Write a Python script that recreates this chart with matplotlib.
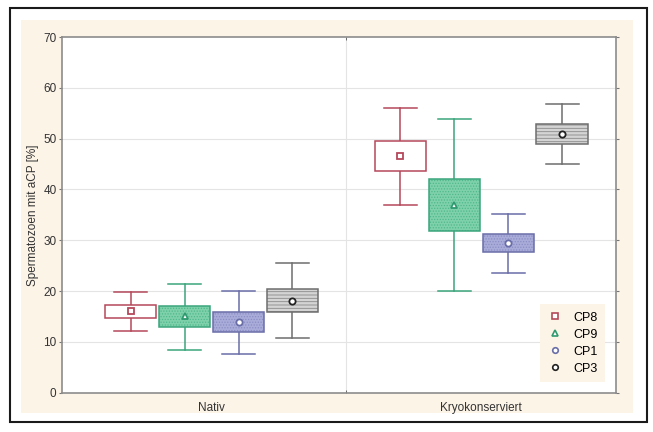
import matplotlib
matplotlib.use("Agg")
import matplotlib.pyplot as plt
from matplotlib.patches import Rectangle
from matplotlib.lines import Line2D

plt.rcParams['font.family'] = ['Liberation Sans', 'DejaVu Sans']
plt.rcParams['hatch.linewidth'] = 0.6

categories = ["Nativ", "Kryokonserviert"]
series = ["CP8", "CP9", "CP1", "CP3"]
# per series: [Nativ, Kryokonserviert]
means   = {"CP8": [16.0, 46.6], "CP9": [15.0, 36.9], "CP1": [13.9, 29.4], "CP3": [18.1, 50.9]}
box_lo  = {"CP8": [14.7, 43.6], "CP9": [12.9, 31.8], "CP1": [12.0, 27.7], "CP3": [15.8, 49.0]}
box_hi  = {"CP8": [17.3, 49.5], "CP9": [17.0, 42.1], "CP1": [15.8, 31.3], "CP3": [20.4, 52.8]}
wh_lo   = {"CP8": [12.2, 36.9], "CP9": [8.5, 20.1], "CP1": [7.6, 23.6], "CP3": [10.7, 45.0]}
wh_hi   = {"CP8": [19.8, 56.1], "CP9": [21.4, 53.8], "CP1": [20.1, 35.2], "CP3": [25.6, 56.8]}
yticks = [0, 10, 20, 30, 40, 50, 60, 70]

edge_c  = {"CP8": "#b5485a", "CP9": "#3aa57c", "CP1": "#6a6ea8", "CP3": "#6e6e6e"}
face_c  = {"CP8": "white", "CP9": "#7fd1ab", "CP1": "#a9acd9", "CP3": "#d4d4d4"}
hatch_c = {"CP8": None, "CP9": "#4fb88c", "CP1": "#8a8ec4", "CP3": "#8a8a8a"}
hatches = {"CP8": None, "CP9": "......", "CP1": "......", "CP3": "-----"}
marker  = {"CP8": "s", "CP9": "^", "CP1": "o", "CP3": "o"}
mk_c    = {"CP8": "#b5485a", "CP9": "#2f9a70", "CP1": "#6a6ea8", "CP3": "#222222"}
offsets = [-0.3, -0.1, 0.1, 0.3]
box_w = 0.19
cap_w = 0.122

fig = plt.figure(figsize=(6.53, 4.32), dpi=100)
fig.patch.set_facecolor("white")
# outer frame and cream panel
fig.add_artist(Rectangle((10/653, 1-422/432), 637/653, 414/432, transform=fig.transFigure,
                         facecolor="white", edgecolor="#1a1a1a", linewidth=1.5, zorder=-2))
fig.add_artist(Rectangle((21/653, 1-413/432), 612/653, 393/432, transform=fig.transFigure,
                         facecolor="#fdf4e8", edgecolor="none", zorder=-1))

ax = fig.add_axes([62/653, 1-392.7/432, 554/653, 355.7/432])
ax.set_zorder(1)
ax.set_facecolor("white")
ax.set_xlim(-0.555, 1.5)
ax.set_ylim(0, 70)

for g in yticks[1:-1]:
    ax.axhline(g, color="#e4e4e4", linewidth=0.8, zorder=0)
ax.axvline(0.5, color="#e4e4e4", linewidth=0.8, zorder=0)

for si, s in enumerate(series):
    for ci in range(len(categories)):
        x = ci + offsets[si]
        lo, hi = box_lo[s][ci], box_hi[s][ci]
        ec = edge_c[s]
        # whiskers
        ax.plot([x, x], [wh_lo[s][ci], lo], color=ec, lw=1.1, zorder=2)
        ax.plot([x, x], [hi, wh_hi[s][ci]], color=ec, lw=1.1, zorder=2)
        for w in (wh_lo[s][ci], wh_hi[s][ci]):
            ax.plot([x - cap_w/2, x + cap_w/2], [w, w], color=ec, lw=1.1, zorder=2)
        # box fill
        ax.add_patch(Rectangle((x - box_w/2, lo), box_w, hi - lo, facecolor=face_c[s],
                               edgecolor=hatch_c[s] if hatch_c[s] else "none",
                               hatch=hatches[s], linewidth=0, zorder=2))
        ax.add_patch(Rectangle((x - box_w/2, lo), box_w, hi - lo, facecolor="none",
                               edgecolor=ec, linewidth=1.1, zorder=3))
        ax.plot([x], [means[s][ci]], marker=marker[s], ms=4.5, mfc="white",
                mec=mk_c[s], mew=1.3, linestyle="none", zorder=4)

ax.set_xticks([0, 1])
ax.set_xticklabels(categories)
ax.set_xticks([0.5], minor=True)
ax.set_yticks(yticks)
ax.tick_params(axis="x", which="major", length=0, pad=7, labelsize=8.5, colors="#333333")
ax.tick_params(axis="x", which="minor", length=2, direction="in", color="#555555", top=True)
ax.tick_params(axis="y", length=2, direction="out", right=True, labelsize=8.5, pad=2,
               colors="#333333", color="#777777")
for sp in ax.spines.values():
    sp.set_color("#8c8c8c")
    sp.set_linewidth(1.2)
ax.set_ylabel("Spermatozoen mit aCP [%]", fontsize=8.5, color="#333333", labelpad=3)

handles = [Line2D([], [], marker=marker[s], ms=4, mfc="white", mec=mk_c[s], mew=1.2,
                  linestyle="none") for s in series]
leg = ax.legend(handles, series, loc="lower right", fontsize=9, frameon=True,
                facecolor="#fdf4e8", edgecolor="none", framealpha=1, handletextpad=0.85,
                borderpad=0.6, labelspacing=0.4, handlelength=1.2, borderaxespad=0,
                bbox_to_anchor=(0.98, 0.03), fancybox=False)
leg.set_zorder(5)

fig.savefig("out.png", dpi=100)
